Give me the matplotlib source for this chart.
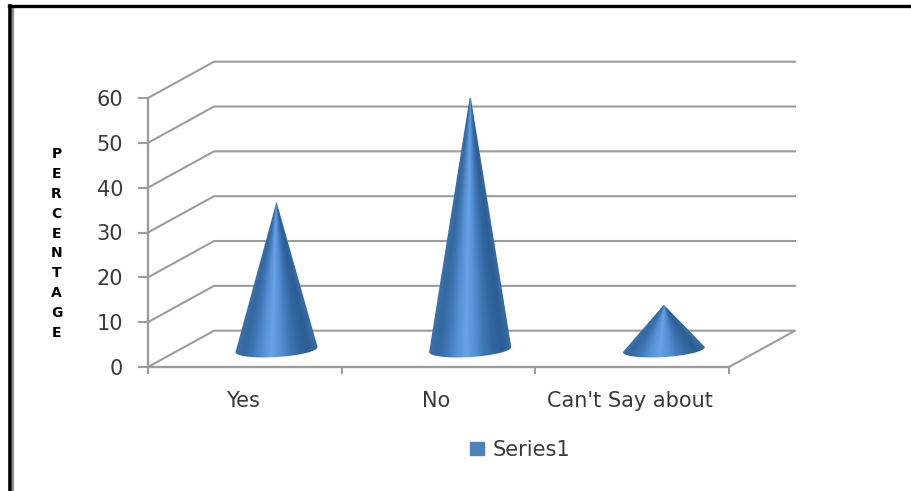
import numpy as np
import matplotlib.pyplot as plt
from matplotlib.colors import LinearSegmentedColormap
from matplotlib.lines import Line2D
from matplotlib.patches import Patch, Polygon
from matplotlib.transforms import ScaledTranslation

categories = ["Yes", "No", "Can't Say about"]
values = [33, 57, 10]
yticks = [0, 10, 20, 30, 40, 50, 60]
ylabel = "P\nE\nR\nC\nE\nN\nT\nA\nG\nE"

W, H = 911, 491
grid_color = "#9c9c9c"
text_color = "#3a3a3a"

# depth of the 3d box, in data units
depth_x = 0.341
depth_y = 8.1
# cones stand about half way into the box
cone_depth = 0.48
half_w = 0.212
ell_b = 1.67
ell_tilt = 0.56

cone_cmap = LinearSegmentedColormap.from_list(
    "cone", ["#3c72ad", "#33699f", "#3f77b6", "#558fd4", "#69a2e6", "#558fd4",
             "#3f77b6", "#31669f", "#2c5e95", "#386da7"])

fig = plt.figure(figsize=(W / 100, H / 100), dpi=100)
ax = fig.add_axes([148 / W, 1 - 367 / H, 581 / W, 269 / H])
ax.set_xlim(0, 3)
ax.set_ylim(0, 60)
ax.patch.set_visible(False)

# side wall and back wall lines
for v in yticks[1:]:
    ax.plot([0, depth_x, 3 + depth_x], [v, v + depth_y, v + depth_y],
            color=grid_color, lw=1.5, clip_on=False, zorder=1)
# floor
ax.plot([0, depth_x, 3 + depth_x, 3], [0, depth_y, depth_y, 0],
        color=grid_color, lw=1.5, clip_on=False, zorder=1)


def draw_cone(cx, base_y, top_y):
    t = np.linspace(np.pi, 2 * np.pi, 80)
    ex = cx + half_w * np.cos(t)
    ey = base_y + ell_b * np.sin(t) + ell_tilt * np.cos(t)
    pts = np.column_stack([np.r_[cx, ex], np.r_[top_y, ey]])

    # shading follows the cone surface, so it narrows towards the tip
    xs = np.linspace(cx - half_w, cx + half_w, 200)
    ys = np.linspace(base_y - ell_b - ell_tilt, top_y, 300)
    gx, gy = np.meshgrid(xs, ys)
    frac = np.clip((top_y - gy) / (top_y - base_y), 0.002, None)
    u = np.clip((gx - cx) / (half_w * frac), -1, 1)

    im = ax.imshow((u + 1) / 2, cmap=cone_cmap, vmin=0, vmax=1, origin="lower",
                   extent=[xs[0], xs[-1], ys[0], ys[-1]], aspect="auto", zorder=3)
    clip = Polygon(pts, closed=True, transform=ax.transData)
    im.set_clip_path(clip)
    im.set_clip_on(True)


for i, val in enumerate(values):
    draw_cone(i + 0.5 + cone_depth * depth_x, cone_depth * depth_y, cone_depth * depth_y + val)

ax.set_xlim(0, 3)
ax.set_ylim(0, 60)

for side in ["top", "right"]:
    ax.spines[side].set_visible(False)
for side in ["left", "bottom"]:
    ax.spines[side].set_color(grid_color)
    ax.spines[side].set_linewidth(1.7)

ax.set_yticks(yticks)
ax.set_xticks([0, 1, 2, 3])
ax.set_xticklabels([])
ax.set_xticks([0.5, 1.5, 2.5], categories, minor=True)
ax.tick_params(axis="y", length=7, width=1.5, color=grid_color, labelsize=15,
               labelcolor=text_color, pad=11)
ax.tick_params(axis="x", which="major", length=5, width=1.5, color=grid_color)
ax.tick_params(axis="x", which="minor", length=0, labelsize=15,
               labelcolor=text_color, pad=17.5)

# category labels sit slightly left of the slot centres
shift = ScaledTranslation(-2 / 100, 0, fig.dpi_scale_trans)
for lab in ax.get_xticklabels(minor=True):
    lab.set_transform(lab.get_transform() + shift)

fig.text(56.5 / W, 1 - 243.5 / H, ylabel, ha="center", va="center", fontsize=10,
         fontweight="bold", color="black", linespacing=1.54)

leg = fig.legend(handles=[Patch(color="#4f81bd", label="Series1")],
                 loc="center", bbox_to_anchor=(520 / W, 1 - 450 / H), frameon=False,
                 fontsize=15, handlelength=0.66, handleheight=0.6, handletextpad=0.4,
                 labelcolor=text_color)

# page border along the top and left edges
fig.add_artist(Line2D([10 / W, 10 / W], [1 - 6 / H, 0], color="black", lw=2.6))
fig.add_artist(Line2D([13 / W, 13 / W], [1 - 7 / H, 0], color="#8c8c8c", lw=1.6))
fig.add_artist(Line2D([9 / W, 1], [1 - 5.8 / H, 1 - 5.8 / H], color="black", lw=2.4))

fig.savefig("out.png", dpi=100)
